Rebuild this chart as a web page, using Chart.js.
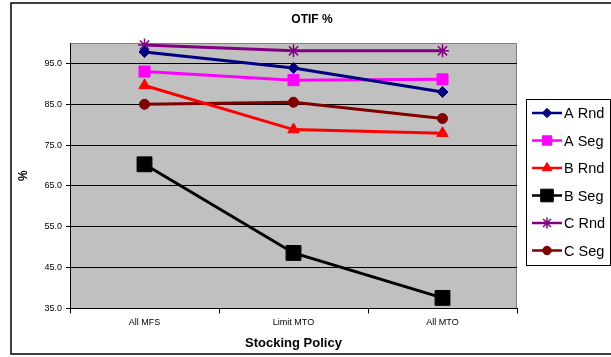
<!DOCTYPE html>
<html>
<head>
<meta charset="utf-8">
<script src="https://cdn.jsdelivr.net/npm/chart.js@4.4.1/dist/chart.umd.min.js"></script>
<style>
  body { margin: 0; background: #fff; }
  canvas { display: block; }
</style>
</head>
<body>
<canvas id="canvas" width="611" height="357"></canvas>
<script>
const FONT = "'Liberation Sans', Arial, sans-serif"

// data
const chartTitle = 'OTIF %'
const categories = ['All MFS', 'Limit MTO', 'All MTO']
const aRnd = [97.8, 93.9, 88.0]
const aSeg = [93.0, 90.9, 91.1]
const bRnd = [89.6, 78.8, 77.9]
const bSeg = [70.3, 48.6, 37.6]
const cRnd = [99.5, 98.1, 98.1]
const cSeg = [85.0, 85.5, 81.5]
const yTicks = [35, 45, 55, 65, 75, 85, 95]

const makeSet = (label, data, color, style, radius) => ({
  label: label,
  data: data,
  borderColor: color,
  backgroundColor: color,
  borderWidth: 3,
  pointStyle: style,
  pointRadius: radius,
  pointHoverRadius: radius,
  pointBackgroundColor: style === 'star' ? 'transparent' : color,
  pointBorderColor: color,
  pointBorderWidth: style === 'star' ? 1.5 : 1,
  tension: 0,
  clip: false
})

const datasets = [
  makeSet('A Rnd', aRnd, '#000080', 'rectRot', 5.5),
  makeSet('A Seg', aSeg, '#FF00FF', 'rect', 7.8),
  makeSet('B Rnd', bRnd, '#FF0000', 'triangle', 6.5),
  makeSet('B Seg', bSeg, '#000000', 'rect', 10.5),
  makeSet('C Rnd', cRnd, '#800080', 'star', 6.5),
  makeSet('C Seg', cSeg, '#800000', 'circle', 5)
]

// grey plot area, outer frame and title
const plotBg = {
  id: 'plotBg',
  beforeDraw(chart) {
    const { ctx, chartArea: a } = chart
    ctx.save()
    ctx.fillStyle = '#fff'
    ctx.fillRect(0, 0, chart.width, chart.height)
    ctx.strokeStyle = '#000'
    ctx.lineWidth = 1.5
    ctx.strokeRect(11, 3, 620, 351)
    ctx.fillStyle = '#C0C0C0'
    ctx.fillRect(a.left, a.top, a.right - a.left, a.bottom - a.top)
    ctx.strokeStyle = '#808080'
    ctx.lineWidth = 1
    ctx.beginPath()
    ctx.moveTo(a.left, a.top + 0.5)
    ctx.lineTo(a.right - 0.5, a.top + 0.5)
    ctx.lineTo(a.right - 0.5, a.bottom)
    ctx.stroke()
    ctx.fillStyle = '#000'
    ctx.font = 'bold 12px ' + FONT
    ctx.textAlign = 'center'
    ctx.textBaseline = 'middle'
    ctx.fillText(chartTitle, 312, 20)
    ctx.restore()
  }
}

// legend box with line + marker samples
const boxLegend = {
  id: 'boxLegend',
  afterDraw(chart) {
    const ctx = chart.ctx
    ctx.save()
    ctx.strokeStyle = '#000'
    ctx.lineWidth = 1
    ctx.strokeRect(526.5, 99.5, 84, 166)
    chart.data.datasets.forEach((ds, i) => {
      const y = 113 + i * 27.5
      ctx.strokeStyle = ds.borderColor
      ctx.lineWidth = 2.5
      ctx.beginPath()
      ctx.moveTo(532, y)
      ctx.lineTo(562, y)
      ctx.stroke()
      ctx.fillStyle = ds.pointBackgroundColor
      ctx.strokeStyle = ds.pointBorderColor
      ctx.lineWidth = ds.pointBorderWidth
      Chart.helpers.drawPoint(ctx, { pointStyle: ds.pointStyle, radius: ds.pointRadius * 0.85, rotation: 0, borderWidth: ds.pointBorderWidth }, 547, y)
      ctx.fillStyle = '#000'
      ctx.font = '14.5px ' + FONT
      ctx.textBaseline = 'middle'
      ctx.fillText(ds.label, 564, y + 1)
    })
    ctx.restore()
  }
}

new Chart(document.getElementById('canvas'), {
  type: 'line',
  data: { labels: categories, datasets: datasets },
  plugins: [plotBg, boxLegend],
  options: {
    responsive: false,
    animation: false,
    devicePixelRatio: 1,
    layout: { padding: { left: 12, right: 94, top: 43, bottom: 0 } },
    plugins: {
      legend: { display: false },
      tooltip: { enabled: false },
      title: { display: false }
    },
    scales: {
      x: {
        offset: true,
        grid: { offset: true, drawOnChartArea: false, color: '#000', tickLength: 5 },
        border: { color: '#000', width: 1 },
        ticks: { color: '#000', font: { family: FONT, size: 9 }, padding: 4, maxRotation: 0 },
        title: { display: true, text: 'Stocking Policy', color: '#000', font: { family: FONT, size: 13, weight: 'bold' }, padding: { top: 2, bottom: 6 } },
        afterFit: s => { s.height = 48.5 }
      },
      y: {
        min: 35,
        max: 100,
        afterBuildTicks: s => { s.ticks = yTicks.map(v => ({ value: v })) },
        grid: { color: '#000', tickLength: 4 },
        border: { color: '#000', width: 1 },
        ticks: { color: '#000', font: { family: FONT, size: 9 }, padding: 4, callback: v => v.toFixed(1) },
        title: { display: true, text: '%', color: '#000', font: { family: FONT, size: 12, weight: 'bold' }, padding: 4 },
        afterFit: s => { s.width = 58 }
      }
    }
  }
})
</script>
</body>
</html>
